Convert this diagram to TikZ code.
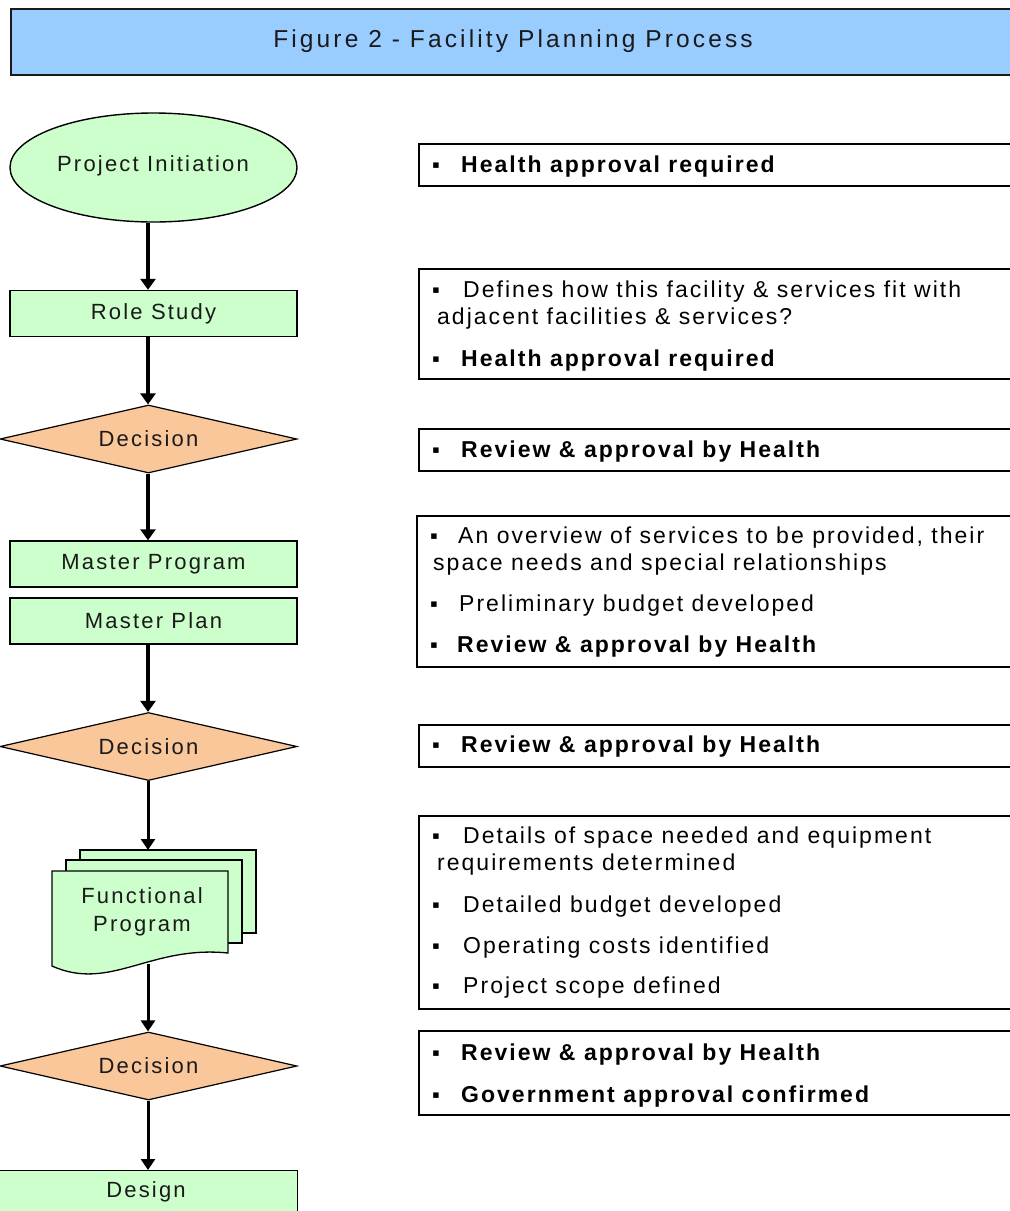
\documentclass[tikz,border=0pt]{standalone}
\usepackage{fontspec}
\setmainfont{Liberation Sans}
\newfontfamily\titlefont[LetterSpace=12.8]{Liberation Sans}
\newfontfamily\lblfont[LetterSpace=10]{Liberation Sans}
\newfontfamily\notefont[LetterSpace=8.8]{Liberation Sans}
\usetikzlibrary{arrows.meta,shapes.geometric}

\definecolor{titleblue}{HTML}{99CCFF}
\definecolor{stepgreen}{HTML}{CCFFCC}
\definecolor{choicepeach}{HTML}{F9C79A}
\definecolor{inkgray}{HTML}{1A1A1A}

\tikzset{
  stepbox/.style={draw=black, line width=1.4pt, fill=stepgreen, rectangle,
    minimum width=287pt, minimum height=46pt, inner sep=0pt,
    text=inkgray, font=\lblfont\fontsize{22}{26}\selectfont},
  startnode/.style={stepbox, ellipse, minimum width=287pt, minimum height=109pt},
  choice/.style={draw=black, line width=1.2pt, fill=choicepeach, diamond, aspect=4.4,
    minimum width=297pt, minimum height=68pt, inner sep=0pt,
    text=inkgray, font=\lblfont\fontsize{22}{26}\selectfont},
  notebox/.style={draw=black, line width=2pt, fill=white, rectangle, anchor=north west,
    minimum width=640pt, inner sep=0pt},
  noteline/.style={anchor=base west, inner sep=0pt, text=black,
    font=\notefont\fontsize{23}{27}\selectfont},
  notebold/.style={noteline, font=\notefont\bfseries\fontsize{23}{27}\selectfont},
  flow/.style={line width=4.2pt, draw=black, -{Triangle[width=15pt,length=11pt]}},
  flowthin/.style={flow, line width=3pt, -{Triangle[width=14pt,length=11pt]}},
}

\newcommand{\bul}[1]{\makebox[#1][l]{\normalfont\fontsize{22}{26}\selectfont ▪}}

\begin{document}
\begin{tikzpicture}[x=1pt,y=-1pt]
  \useasboundingbox (0,0) rectangle (1010,1211);
  \clip (0,0) rectangle (1010,1211);
  \fill[white] (0,0) rectangle (1010,1211);

  % title banner
  \node[draw=inkgray, line width=2pt, fill=titleblue, anchor=north west,
        minimum width=1040pt, minimum height=66pt, inner sep=0pt] (banner) at (10,8) {};
  \node[text=inkgray, font=\titlefont\fontsize{24.5}{29}\selectfont] (title) at (513,41)
    {Figure 2 - Facility Planning Process};

  % spine of the flow chart
  \coordinate (spine) at (148,0);

  % process column
  \node[startnode] (init) at (153.5,167.5) {};
  \node[text=inkgray, font=\lblfont\fontsize{22}{26}\selectfont] (initlbl) at (153,166) {Project Initiation};
  \node[stepbox] (role) at (153.5,313.5) {Role Study};
  \node[choice] (dec1) at (148.5,439) {Decision};
  \node[stepbox] (mprog) at (153.5,564) {Master Program};
  \node[stepbox] (mplan) at (153.5,621) {Master Plan};
  \node[choice] (dec2) at (148.5,746.5) {Decision};

  % functional program: stacked documents
  \begin{scope}[draw=black, line width=1.3pt, fill=stepgreen]
    \filldraw (80,850) rectangle (256,933);
    \filldraw (66,860) rectangle (242,943);
    \filldraw (52,871) -- (228,871) -- (228,953)
      .. controls (150,945) and (110,992) .. (52,966) -- cycle;
  \end{scope}
  \coordinate (fptop) at (148,850);
  \coordinate (fpbot) at (148,964);
  \node[text=inkgray, align=center, font=\lblfont\fontsize{22}{28}\selectfont] (fp) at (142,912)
    {Functional\\Program};

  \node[choice] (dec3) at (148.5,1066) {Decision};
  \node[stepbox, anchor=north west, minimum width=299pt, minimum height=60pt] (design) at (-2,1170) {};
  \node[text=inkgray, font=\lblfont\fontsize{22}{26}\selectfont] (designlbl) at (146,1192) {Design};

  % connectors
  \draw[flow] (init.south -| spine) -- (role.north -| spine);
  \draw[flow] (role.south -| spine) -- (dec1.north -| spine);
  \draw[flow] (dec1.south -| spine) -- (mprog.north -| spine);
  \draw[flow] (mplan.south -| spine) -- (dec2.north -| spine);
  \draw[flowthin] (dec2.south -| spine) -- (fptop);
  \draw[flowthin] (fpbot) -- (dec3.north -| spine);
  \draw[flowthin] (dec3.south -| spine) -- (design.north -| spine);

  % notes column
  \node[notebox, minimum height=42pt] (n1) at (418,143) {};
  \node[notebold] (n1a) at (432,172) {\bul{29pt}Health approval required};

  \node[notebox, minimum height=110pt] (n2) at (418,268) {};
  \node[noteline] (n2a) at (432,297) {\bul{31pt}Defines how  this facility \& services fit with};
  \node[noteline] (n2b) at (437,324) {adjacent facilities \& services?};
  \node[notebold] (n2c) at (432,366) {\bul{29pt}Health approval required};

  \node[notebox, minimum height=42pt] (n3) at (418,428) {};
  \node[notebold] (n3a) at (432,457) {\bul{29pt}Review \& approval by Health};

  \node[notebox, minimum height=151pt] (n4) at (416,515) {};
  \node[noteline] (n4a) at (430,543) {\bul{28pt}An overview of services to be provided, their};
  \node[noteline] (n4b) at (433,570) {space needs and special relationships};
  \node[noteline] (n4c) at (430,611) {\bul{29pt}Preliminary budget developed};
  \node[notebold] (n4d) at (430,652) {\bul{27pt}Review \& approval by Health};

  \node[notebox, minimum height=42pt] (n5) at (418,724) {};
  \node[notebold] (n5a) at (432,752) {\bul{29pt}Review \& approval by Health};

  \node[notebox, minimum height=193pt] (n6) at (418,815) {};
  \node[noteline] (n6a) at (432,843) {\bul{31pt}Details of space needed and equipment};
  \node[noteline] (n6b) at (437,870) {requirements determined};
  \node[noteline] (n6c) at (432,912) {\bul{31pt}Detailed budget developed};
  \node[noteline] (n6d) at (432,953) {\bul{31pt}Operating costs identified};
  \node[noteline] (n6e) at (432,993) {\bul{31pt}Project scope defined};

  \node[notebox, minimum height=84pt] (n7) at (418,1030) {};
  \node[notebold] (n7a) at (432,1060) {\bul{29pt}Review \& approval by Health};
  \node[notebold] (n7b) at (432,1102) {\bul{29pt}Government approval confirmed};
\end{tikzpicture}
\end{document}
